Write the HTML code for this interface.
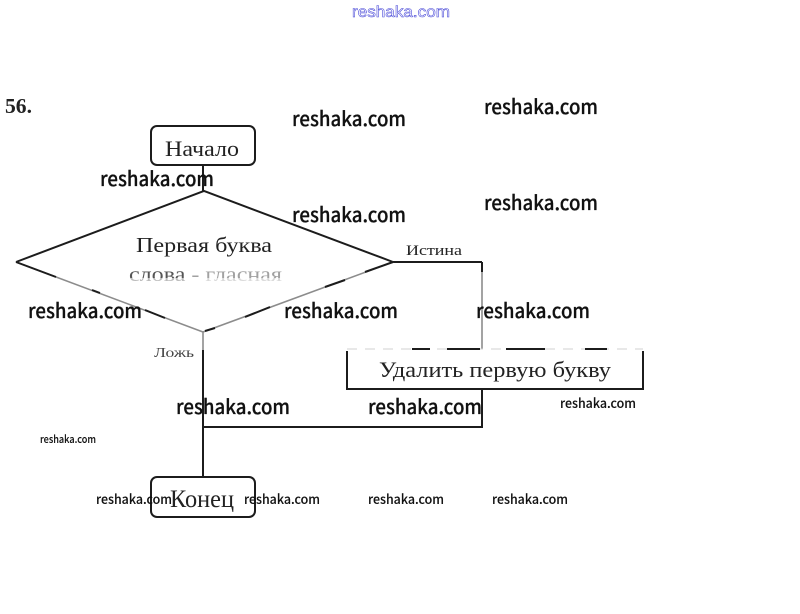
<!DOCTYPE html>
<html>
<head>
<meta charset="utf-8">
<style>
html,body{margin:0;padding:0;background:#fff;width:800px;height:614px;overflow:hidden}
svg{display:block}
.s{font-family:"Liberation Serif",serif;fill:#222}
.w{font-family:"Noto Sans CJK SC","Liberation Sans",sans-serif;fill:#111;font-weight:500;stroke:#111;stroke-width:.25}
.b{font-size:20px}
.m{font-size:13px;stroke-width:.1}
</style>
</head>
<body>
<svg width="800" height="614" viewBox="0 0 800 614" xmlns="http://www.w3.org/2000/svg">
<rect width="800" height="614" fill="#fff"/>
<text x="352" y="17" font-family="Liberation Sans,sans-serif" font-size="16" textLength="98" lengthAdjust="spacingAndGlyphs" fill="#fff" stroke="#4a4ad8" stroke-width="0.55">reshaka.com</text>
<text x="5" y="113" font-family="Liberation Serif,serif" font-weight="bold" font-size="21" fill="#222" textLength="27" lengthAdjust="spacingAndGlyphs">56.</text>

<g fill="none" stroke="#1c1c1c" stroke-width="2">
<rect x="151" y="126" width="104" height="39" rx="6"/>
<line x1="203" y1="165" x2="203" y2="191"/>
<polyline points="16,262 204,191 393,262"/>
<polyline points="393,262 482,262"/>
<line x1="482" y1="262" x2="482" y2="272"/>
<line x1="203" y1="350" x2="203" y2="477"/>
<polyline points="347,351 347,389 643,389 643,351"/>
<polyline points="482,389 482,427 203,427"/>
<rect x="151" y="477" width="104" height="40" rx="6"/>
</g>
<g fill="none" stroke="#8c8c8c" stroke-width="1.6">
<line x1="16" y1="262" x2="203" y2="332"/>
<line x1="203" y1="332" x2="393" y2="262"/>
<line x1="203" y1="332" x2="203" y2="350"/>
<line x1="482" y1="272" x2="482" y2="349"/>
<line x1="347" y1="349" x2="643" y2="349" stroke-dasharray="10 8" stroke="#d0d0d0" stroke-width="1"/>
</g>
<g fill="none" stroke="#1c1c1c" stroke-width="2">
<line x1="16" y1="262" x2="56" y2="277"/>
<line x1="92" y1="290" x2="100" y2="293"/>
<line x1="145" y1="310" x2="165" y2="318"/>
<line x1="205" y1="331" x2="215" y2="328"/>
<line x1="245" y1="317" x2="270" y2="307"/>
<line x1="325" y1="287" x2="345" y2="280"/>
<line x1="365" y1="272" x2="393" y2="262"/>
<line x1="412" y1="349" x2="430" y2="349"/>
<line x1="447" y1="349" x2="480" y2="349"/>
<line x1="506" y1="349" x2="545" y2="349"/>
<line x1="585" y1="349" x2="607" y2="349"/>
</g>

<text class="s" x="204" y="252" font-size="21" text-anchor="middle" textLength="136" lengthAdjust="spacingAndGlyphs">Первая буква</text>
<text x="129" y="281" font-family="Liberation Serif,serif" font-size="20" textLength="153" lengthAdjust="spacingAndGlyphs" fill="#555">слова - гласная</text>
<rect x="129" y="278" width="155" height="5" fill="#fff" opacity=".6"/>
<rect x="185" y="266" width="100" height="17" fill="#fff" opacity=".45"/>
<text class="s" x="165" y="156" font-size="22" textLength="74" lengthAdjust="spacingAndGlyphs">Начало</text>
<text class="s" x="406" y="255" font-size="15" textLength="56" lengthAdjust="spacingAndGlyphs">Истина</text>
<text class="s" x="154" y="357" font-size="14" textLength="40" lengthAdjust="spacingAndGlyphs" style="fill:#444">Ложь</text>
<text class="s" x="379" y="377" font-size="22" textLength="232" lengthAdjust="spacingAndGlyphs">Удалить первую букву</text>
<text class="s" x="170" y="507" font-size="25" textLength="64" lengthAdjust="spacingAndGlyphs">Конец</text>

<g>
<text class="w b" x="292" y="126" textLength="114" lengthAdjust="spacingAndGlyphs">reshaka.com</text>
<text class="w b" x="484" y="114" textLength="114" lengthAdjust="spacingAndGlyphs">reshaka.com</text>
<text class="w b" x="100" y="186" textLength="114" lengthAdjust="spacingAndGlyphs">reshaka.com</text>
<text class="w b" x="292" y="222" textLength="114" lengthAdjust="spacingAndGlyphs">reshaka.com</text>
<text class="w b" x="484" y="210" textLength="114" lengthAdjust="spacingAndGlyphs">reshaka.com</text>
<text class="w b" x="28" y="318" textLength="114" lengthAdjust="spacingAndGlyphs">reshaka.com</text>
<text class="w b" x="284" y="318" textLength="114" lengthAdjust="spacingAndGlyphs">reshaka.com</text>
<text class="w b" x="476" y="318" textLength="114" lengthAdjust="spacingAndGlyphs">reshaka.com</text>
<text class="w b" x="176" y="414" textLength="114" lengthAdjust="spacingAndGlyphs">reshaka.com</text>
<text class="w b" x="368" y="414" textLength="114" lengthAdjust="spacingAndGlyphs">reshaka.com</text>
<text class="w m" x="560" y="408" textLength="76" lengthAdjust="spacingAndGlyphs">reshaka.com</text>
<text class="w m" x="40" y="443" style="font-size:11px" textLength="56" lengthAdjust="spacingAndGlyphs">reshaka.com</text>
<text class="w m" x="96" y="504" textLength="76" lengthAdjust="spacingAndGlyphs">reshaka.com</text>
<text class="w m" x="244" y="504" textLength="76" lengthAdjust="spacingAndGlyphs">reshaka.com</text>
<text class="w m" x="368" y="504" textLength="76" lengthAdjust="spacingAndGlyphs">reshaka.com</text>
<text class="w m" x="492" y="504" textLength="76" lengthAdjust="spacingAndGlyphs">reshaka.com</text>
</g>
</svg>
</body>
</html>
